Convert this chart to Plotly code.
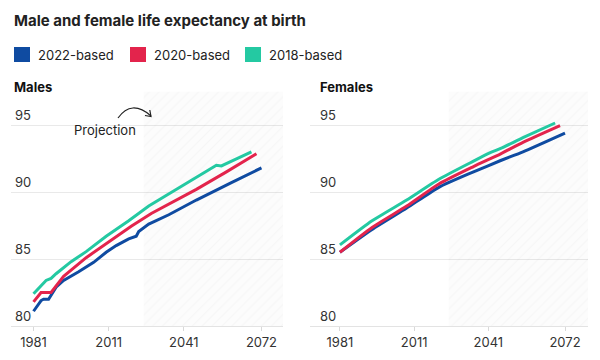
import plotly.graph_objects as go

# ---------------- data ----------------
SERIES = ["2022-based", "2020-based", "2018-based"]
COLORS = ["#0f4ba1", "#e3244c", "#24c9a2"]

# Males
M_YEARS_2022 = [1981, 1984, 1985, 1987, 1990, 1993, 1999, 2005, 2010, 2014, 2019, 2022, 2023, 2027, 2035, 2046, 2060, 2072]
M_VALS_2022 = [81.1, 81.9, 82.0, 82.0, 82.9, 83.4, 84.05, 84.75, 85.5, 86.0, 86.5, 86.7, 87.05, 87.6, 88.3, 89.4, 90.7, 91.8]
M_YEARS_2020 = [1981, 1984, 1988, 1993, 2002, 2011, 2020, 2028, 2046, 2058, 2070]
M_VALS_2020 = [81.8, 82.5, 82.5, 83.7, 85.1, 86.3, 87.45, 88.4, 90.2, 91.5, 92.85]
M_YEARS_2018 = [1981, 1984, 1986, 1988, 1990, 1996, 2002, 2010, 2019, 2027, 2040, 2051, 2054, 2056, 2068]
M_VALS_2018 = [82.4, 83.0, 83.4, 83.55, 83.9, 84.8, 85.55, 86.7, 87.85, 88.95, 90.4, 91.65, 92.0, 91.95, 93.0]

# Females
F_YEARS_2022 = [1981, 1994, 2008, 2021, 2035, 2046, 2055, 2072]
F_VALS_2022 = [85.5, 87.2, 88.8, 90.35, 91.5, 92.35, 93.0, 94.4]
F_YEARS_2020 = [1981, 1994, 2008, 2021, 2035, 2046, 2055, 2070]
F_VALS_2020 = [85.5, 87.35, 88.95, 90.6, 91.9, 92.85, 93.7, 94.95]
F_YEARS_2018 = [1981, 1994, 2008, 2021, 2035, 2042, 2046, 2055, 2068]
F_VALS_2018 = [86.05, 87.85, 89.4, 90.95, 92.3, 92.95, 93.25, 94.05, 95.15]

X_TICKS = [1981, 2011, 2041, 2072]
Y_TICKS = [80, 85, 90, 95]
PROJ_START = 2025

TITLE = "Male and female life expectancy at birth"
PANELS = ["Males", "Females"]

# ---------------- layout helpers ----------------
W, H = 600, 360
def px(x): return x / W
def py(y): return 1 - y / H

XR_L = [1972.0, 2080.6]
XR_R = [1968.9, 2081.3]
YR = [80, 97.5]
FONT = "Inter, 'DejaVu Sans', sans-serif"
TXT = "#222222"

fig = go.Figure()

males = [(M_YEARS_2022, M_VALS_2022), (M_YEARS_2020, M_VALS_2020), (M_YEARS_2018, M_VALS_2018)]
females = [(F_YEARS_2022, F_VALS_2022), (F_YEARS_2020, F_VALS_2020), (F_YEARS_2018, F_VALS_2018)]

for (xa, ya, xr, data, shp) in [("x", "y", XR_L, males, "linear"), ("x2", "y2", XR_R, females, "spline")]:
    # projection hatch
    fig.add_trace(go.Scatter(
        x=[PROJ_START, xr[1], xr[1], PROJ_START, PROJ_START],
        y=[YR[0], YR[0], YR[1], YR[1], YR[0]],
        mode="lines", fill="toself", line=dict(width=0),
        fillcolor="rgba(0,0,0,0)",
        fillpattern=dict(shape="/", fgcolor="rgba(0,0,0,0.05)", bgcolor="rgba(0,0,0,0.01)",
                         size=7, solidity=0.15),
        hoverinfo="skip", showlegend=False, xaxis=xa, yaxis=ya))
    for (yrs, vals), name, col in zip(data, SERIES, COLORS):
        fig.add_trace(go.Scatter(x=yrs, y=vals, mode="lines", name=name,
                                 line=dict(color=col, width=3, shape=shp, smoothing=0.6),
                                 showlegend=False, xaxis=xa, yaxis=ya))

ydom = [py(326), py(91.5)]
axis_common = dict(showgrid=False, zeroline=False, ticks="outside", ticklen=4,
                   tickcolor="#d9d9d9", showline=True, linecolor="#e3e3e3", linewidth=1,
                   tickvals=X_TICKS, tickfont=dict(family=FONT, size=13, color="#333"))
yaxis_common = dict(range=YR, domain=ydom, showticklabels=False, showgrid=True,
                    gridcolor="#e9e9e9", gridwidth=1, tickvals=Y_TICKS, zeroline=False,
                    showline=False, ticks="")

fig.update_layout(
    width=W, height=H, margin=dict(l=0, r=0, t=0, b=0),
    paper_bgcolor="white", plot_bgcolor="white", showlegend=False,
    xaxis=dict(domain=[px(11), px(283)], range=XR_L, anchor="y", **axis_common),
    xaxis2=dict(domain=[px(310), px(588)], range=XR_R, anchor="y2", **axis_common),
    yaxis=dict(anchor="x", **yaxis_common),
    yaxis2=dict(anchor="x2", **yaxis_common),
    font=dict(family=FONT, color=TXT),
)

ann = []
# title
ann.append(dict(text="<b>%s</b>" % TITLE, x=px(12), y=py(20), xref="paper", yref="paper",
                xanchor="left", yanchor="middle", showarrow=False,
                font=dict(family=FONT, size=15, color=TXT)))
# legend
leg_x = [14, 130, 245]
shapes = []
for lx, name, col in zip(leg_x, SERIES, COLORS):
    shapes.append(dict(type="rect", xref="paper", yref="paper", x0=px(lx), x1=px(lx + 16),
                       y0=py(62), y1=py(47), fillcolor=col, line=dict(width=0)))
    ann.append(dict(text=name, x=px(lx + 22), y=py(55), xref="paper", yref="paper",
                    xanchor="left", yanchor="middle", showarrow=False,
                    font=dict(family=FONT, size=13, color=TXT)))
# panel titles
for tx, t in zip([12, 318], PANELS):
    ann.append(dict(text="<b>%s</b>" % t, x=px(tx), y=py(87), xref="paper", yref="paper",
                    xanchor="left", yanchor="middle", showarrow=False,
                    font=dict(family=FONT, size=13, color="#111")))
# y tick labels above gridlines
for xr_, yr_, shift in [("x domain", "y", 2), ("x2 domain", "y2", 8)]:
    for v in Y_TICKS:
        ann.append(dict(text=str(v), x=0, y=v, xref=xr_, yref=yr_, xanchor="left",
                        yanchor="bottom", xshift=shift, yshift=0, showarrow=False,
                        font=dict(family=FONT, size=13, color="#333")))
# projection label
ann.append(dict(text="Projection", x=px(105), y=py(130), xref="paper", yref="paper",
                xanchor="center", yanchor="middle", showarrow=False,
                font=dict(family=FONT, size=13, color=TXT)))
# curved arrow
shapes.append(dict(type="path", xref="paper", yref="paper",
                   path="M %f,%f Q %f,%f %f,%f" % (px(118), py(118), px(131.5), py(99), px(151), py(116)),
                   line=dict(color="#222", width=1.2)))
shapes.append(dict(type="path", xref="paper", yref="paper",
                   path="M %f,%f L %f,%f L %f,%f" % (px(149.8), py(110), px(151), py(116.5), px(145), py(115.5)),
                   line=dict(color="#222", width=1.2)))

fig.update_layout(annotations=ann, shapes=shapes)
fig.write_html("out.html", config={"displayModeBar": False},
               post_script="document.body.style.margin='0';document.body.style.overflow='hidden';"
                           "document.documentElement.style.overflow='hidden';")
